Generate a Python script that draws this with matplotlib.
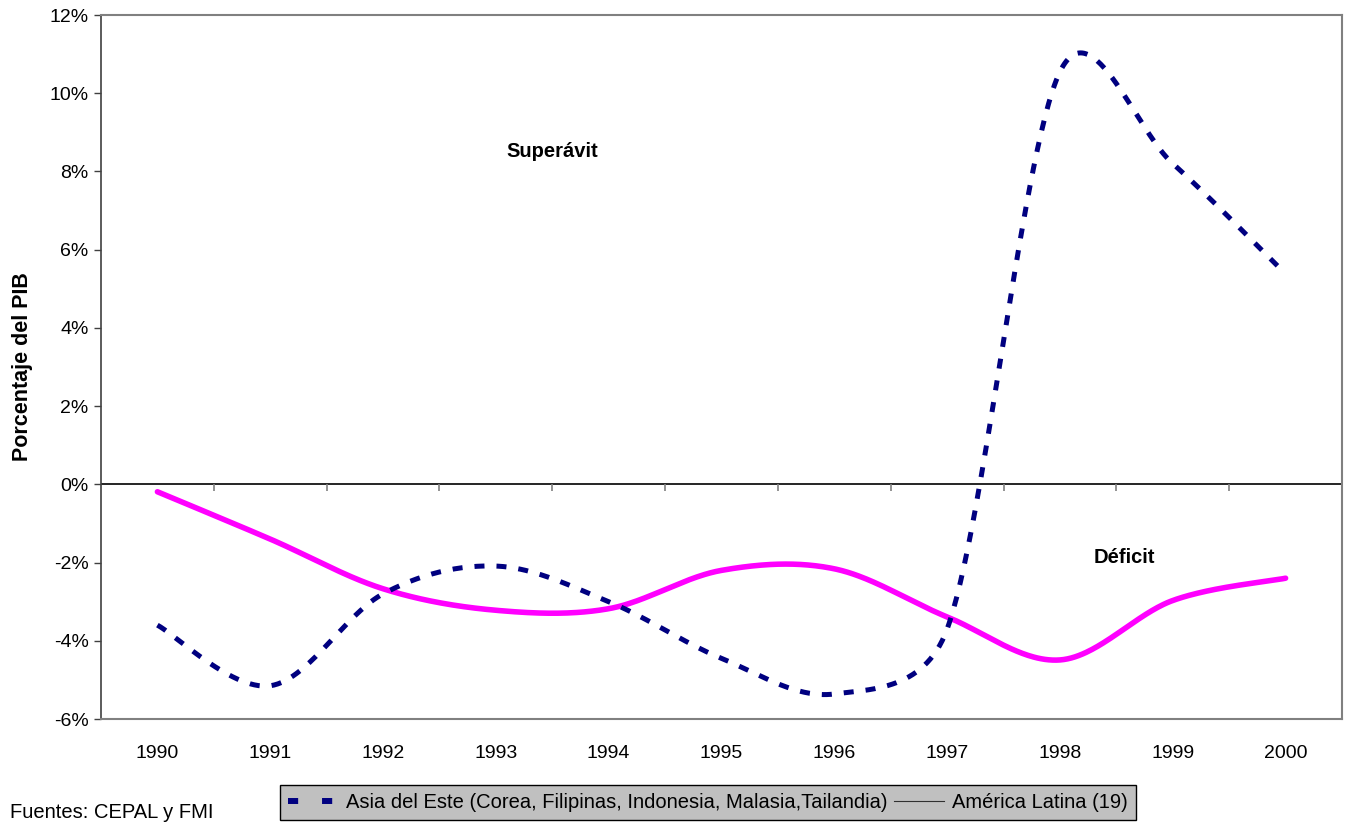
import numpy as np
import matplotlib
matplotlib.use('Agg')
import matplotlib.pyplot as plt
from matplotlib.lines import Line2D

plt.rcParams['font.family'] = ['Liberation Sans', 'DejaVu Sans']

years = ['1990', '1991', '1992', '1993', '1994', '1995',
         '1996', '1997', '1998', '1999', '2000']
# saldo en % del PIB
asia = [-3.6, -5.15, -2.8, -2.09, -3.0, -4.45, -5.36, -3.7, 10.55, 8.2, 5.38]
latam = [-0.19, -1.4, -2.67, -3.22, -3.18, -2.2, -2.16, -3.39, -4.49, -2.97, -2.4]

asia_label = 'Asia del Este (Corea, Filipinas, Indonesia, Malasia,Tailandia)'
latam_label = 'América Latina (19)'

NAVY = '#000080'
MAGENTA = '#FF00FF'

# pixels per unit on screen (used for smoothing like Excel does)
SX = 1241 / 11.
SY = 704 / 18.


# Excel-like smoothed line: Bezier, tension 1/6, control arm clamped to half the chord
def smooth(y, n=60):
	y = np.asarray(y, dtype=float)
	x = np.arange(len(y), dtype=float)
	pts = np.column_stack([x, y])
	ext = np.vstack([pts[0], pts, pts[-1]])
	def dist(v):
		return np.hypot(v[0] * SX, v[1] * SY)
	out = []
	for i in range(len(pts) - 1):
		p0, p1, p2, p3 = ext[i], ext[i + 1], ext[i + 2], ext[i + 3]
		chord = dist(p2 - p1)
		a1 = (p2 - p0) / 6.
		a2 = (p3 - p1) / 6.
		if dist(a1) > chord / 2:
			a1 = a1 * (chord / 2) / dist(a1)
		if dist(a2) > chord / 2:
			a2 = a2 * (chord / 2) / dist(a2)
		c1 = p1 + a1
		c2 = p2 - a2
		t = np.linspace(0, 1, n, endpoint=(i == len(pts) - 2))[:, None]
		seg = ((1 - t)**3) * p1 + 3 * ((1 - t)**2) * t * c1 + 3 * (1 - t) * t**2 * c2 + t**3 * p2
		out.append(seg)
	out = np.vstack(out)
	return out[:, 0], out[:, 1]


fig = plt.figure(figsize=(13.52, 8.23), dpi=100)
ax = fig.add_axes([101/1352, 1 - 719/823, (1342 - 101)/1352, (719 - 15)/823])

xa, ya = smooth(asia)
xl, yl = smooth(latam)
ax.plot(xa, ya, color=NAVY, lw=3.6, ls=(0, (2.0, 2.4)), solid_capstyle='butt', zorder=3)
ax.plot(xl, yl, color=MAGENTA, lw=4.0, solid_capstyle='round', zorder=2)

ax.set_xlim(-0.5, len(years) - 0.5)
ax.set_ylim(-6, 12)

# category axis crossing at 0
ax.axhline(0, color='black', lw=1.2, zorder=1)
bounds = np.arange(len(years) + 1) - 0.5
ax.vlines(bounds[1:-1], -0.17, 0, color='#808080', lw=1.2, zorder=1)

ax.set_xticks(range(len(years)))
ax.set_xticklabels(years, fontsize=14)
ax.tick_params(axis='x', length=0, pad=19)

yt = np.arange(-6, 13, 2)
ax.set_yticks(yt)
ax.set_yticklabels([f'{v}%' for v in yt], fontsize=14)
ax.tick_params(axis='y', length=5, width=1, color='#404040', pad=4)

for s in ['top', 'right', 'bottom']:
	ax.spines[s].set_color('#808080')
	ax.spines[s].set_linewidth(1.5)
ax.spines['left'].set_color('#404040')
ax.spines['left'].set_linewidth(1.2)

ax.set_ylabel('Porcentaje del PIB', fontsize=15.5, fontweight='bold')
ax.yaxis.set_label_coords(-0.055, 0.5)

ax.text(3.5, 8.5, 'Superávit', fontsize=14.5, fontweight='bold', ha='center', va='center')
ax.text(8.57, -1.87, 'Déficit', fontsize=14.5, fontweight='bold', ha='center', va='center')

handles = [
	Line2D([], [], color=NAVY, lw=4.3, ls=(0, (1.7, 4.0)), solid_capstyle='butt'),
	Line2D([], [], color='#303030', lw=0.8),
]
leg = fig.legend(handles, [asia_label, latam_label], loc='upper left',
	bbox_to_anchor=(280/1352, 1 - 785/823), ncol=2, fontsize=14.5,
	frameon=True, fancybox=False, facecolor='#C0C0C0', edgecolor='black',
	framealpha=1, borderpad=0.4, handlelength=2.5, handletextpad=0.4,
	columnspacing=0.3, borderaxespad=0)
leg.get_frame().set_linewidth(1.0)

fig.text(10/1352, 1 - 822/823, 'Fuentes: CEPAL y FMI', fontsize=14.5, ha='left', va='bottom')

fig.savefig('out.png', dpi=100)
